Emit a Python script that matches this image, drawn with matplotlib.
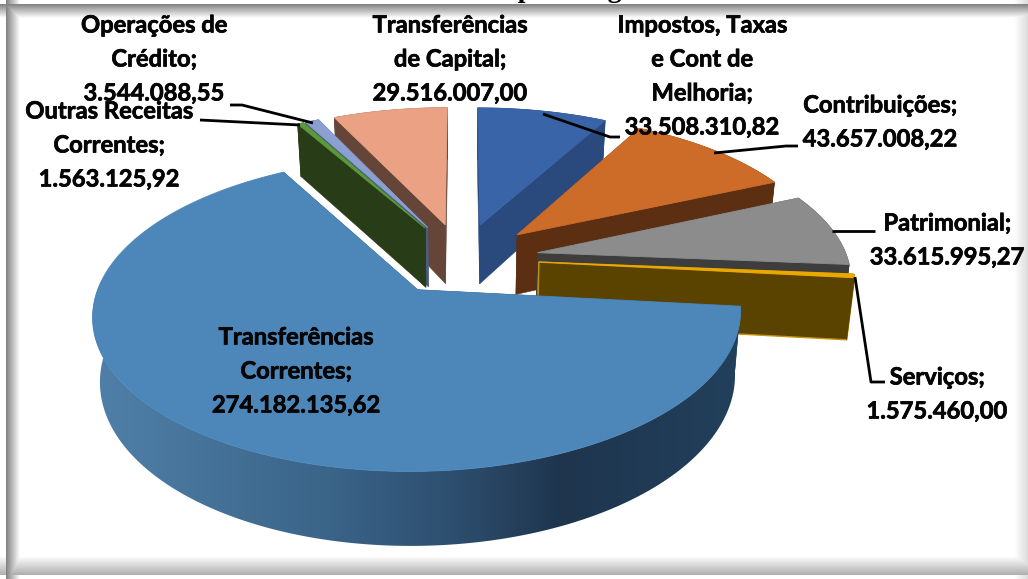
import numpy as np
import matplotlib
matplotlib.use("Agg")
import matplotlib.pyplot as plt
import matplotlib.patheffects as pe
from matplotlib.colors import to_rgb
from matplotlib.patches import Polygon

# ---- data (clockwise from 12 o'clock) ----
categories = ["Impostos, Taxas\ne Cont de\nMelhoria", "Contribuições", "Patrimonial", "Serviços",
              "Transferências\nCorrentes", "Outras Receitas\nCorrentes",
              "Operações de\nCrédito", "Transferências\nde Capital"]
values = [33508310.82, 43657008.22, 33615995.27, 1575460.00,
          274182135.62, 1563125.92, 3544088.55, 29516007.00]
title = "Receitas por Origem"

# ---- styles ----
top_colors = ["#3A64A8", "#CC6C28", "#8C8C8C", "#EBA900", "#4D87BA", "#5B9A3C", "#8BA0D0", "#EBA284"]
wall_colors = ["#2A4A7E", "#5C2E12", "#3D3D3D", "#5A4300", "#1F3650", "#283C18", "#4A5C80", "#654538"]
draw_order = [0, 7, 6, 5, 1, 2, 3, 4]
explode = 0.25
label_xy = [(702, 76), (880, 122), (947, 240), (937, 394), (296, 371), (109, 145), (154, 59), (450, 59)]
leaders = [[(543, 114), (610, 137), (620, 137)],
           [(714, 153), (786, 146), (798, 146)],
           [(832, 231), (875, 231)],
           [(855, 277), (871, 382), (885, 382)],
           None,
           [(200, 120), (300, 125)],
           [(230, 105), (242, 105), (313, 123)],
           None]

# ---- projection of the tilted disc ----
CX, CY, RX, RY, DEPTH, K, TAPER = 461.5, 258.7, 310.0, 144.0, 61.0, 0.15, 0.02


def project(x, y, z=0.0):
    w = 1 + K * y
    return CX + RX * x / w * (1 - TAPER * z), CY + (-RY * y + DEPTH * z) / w


def arc(cx, cy, a0, a1, z=0.0, n=None):
    n = n or max(2, int(abs(a1 - a0)) * 2)
    t = np.radians(np.linspace(a0, a1, n))
    return project(cx + np.sin(t), cy + np.cos(t), z)


plt.rcParams["font.family"] = ["Lato", "DejaVu Sans"]
fig = plt.figure(figsize=(10.28, 5.79), dpi=100, facecolor="white")
ax = fig.add_axes([0, 0, 1, 1])
ax.axis("off")

# inner shadow frame
yy, xx = np.mgrid[0:579, 0:1028] + 0.5
shade = np.zeros((579, 1028))
shade = np.maximum(shade, 0.50 * np.clip((18 - yy) / 14, 0, 1) * (yy >= 4))
shade = np.maximum(shade, 0.50 * np.clip((20 - xx) / 14, 0, 1) * (xx >= 6))
shade = np.maximum(shade, 0.32 * np.clip((yy - 556) / 19, 0, 1) * (yy <= 575))
shade = np.maximum(shade, 0.14 * np.clip((xx - 1014) / 14, 0, 1))
ax.imshow(1 - shade, cmap="gray", vmin=0, vmax=1, extent=(0, 1028, 579, 0), aspect="auto",
          zorder=0, interpolation="bilinear")

ax.text(412, -3, title, family="Liberation Serif", weight="bold", fontsize=20, va="baseline",
        ha="left", color="black", zorder=1, clip_on=False)

# side gradient of the big slice
grad_x = [100, 330, 450, 560, 741]
grad_c = [to_rgb(c) for c in ["#4F7FA8", "#3A6488", "#2E4F70", "#1F354E", "#22405C"]]
gx = np.arange(80, 760)
grad_img = np.stack([np.interp(gx, grad_x, [c[i] for c in grad_c]) for i in range(3)], axis=-1)[None, :, :]

total = sum(values)
edges = np.concatenate([[0], np.cumsum(values)]) / total * 360
z = 2
for i in draw_order:
    a0, a1 = edges[i], edges[i + 1]
    mid = np.radians((a0 + a1) / 2)
    ox, oy = explode * np.sin(mid), explode * np.cos(mid)
    ax0, ay0 = project(ox, oy, 0)
    ax1, ay1 = project(ox, oy, 1)
    tx, ty = arc(ox, oy, a0, a1, 0)
    bx, by = arc(ox, oy, a0, a1, 1)
    edge = "#C79000" if i == 3 else wall_colors[i]
    # radial walls
    for k in (0, -1):
        ax.add_patch(Polygon([(ax0, ay0), (tx[k], ty[k]), (bx[k], by[k]), (ax1, ay1)], closed=True,
                             fc=wall_colors[i], ec=edge, lw=1.0 if i == 3 else 0.4, zorder=z))
    # outer rim
    rim = np.column_stack([np.r_[tx, bx[::-1]], np.r_[ty, by[::-1]]])
    if i == 4:
        clip = Polygon(rim, closed=True, transform=ax.transData, fc="none", ec="none")
        ax.add_patch(clip)
        im = ax.imshow(grad_img, extent=(80, 760, 560, 280), aspect="auto", zorder=z, interpolation="bilinear")
        im.set_clip_path(clip)
    else:
        ax.add_patch(Polygon(rim, closed=True, fc=wall_colors[i], ec=wall_colors[i], lw=0.5, zorder=z))
    # top face
    ax.add_patch(Polygon(np.column_stack([np.r_[ax0, tx], np.r_[ay0, ty]]), closed=True,
                         fc=top_colors[i], ec=top_colors[i], lw=0.6, zorder=z + 0.5))
    z += 1

ax.set_xlim(0, 1028)
ax.set_ylim(579, 0)

for pts in leaders:
    if pts:
        p = np.array(pts)
        ax.plot(p[:, 0], p[:, 1], color="black", lw=2.0, solid_capstyle="butt", zorder=30)


def fmt(v):
    return f"{v:,.2f}".replace(",", "X").replace(".", ",").replace("X", ".")


for name, v, (lx, ly) in zip(categories, values, label_xy):
    t = ax.text(lx, ly, f"{name};\n{fmt(v)}", ha="center", va="center", multialignment="center",
                fontsize=17.1, weight="bold", color="#050505", linespacing=1.58, zorder=40)
    t.set_path_effects([pe.withStroke(linewidth=0.5, foreground="#050505")])

fig.savefig("out.png", dpi=100, facecolor="white")
